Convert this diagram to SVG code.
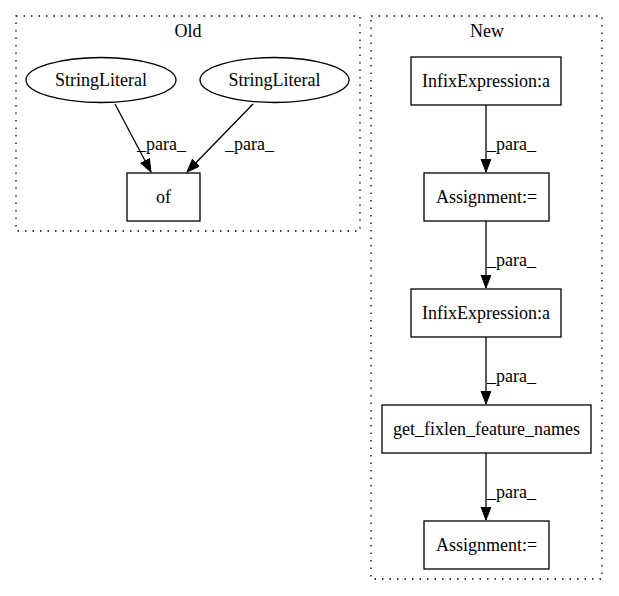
<svg xmlns="http://www.w3.org/2000/svg" width="619" height="596" viewBox="0 0 619 596">
<style>
text{font-family:"Liberation Serif","Times New Roman",serif;font-size:18px;fill:#000}
.c{text-anchor:middle}
.cl{fill:none;stroke:#000;stroke-width:1.3;stroke-dasharray:1.5,6}
.n{fill:#fff;stroke:#000;stroke-width:1.3}
.e{fill:none;stroke:#000;stroke-width:1.3}
</style>
<defs>
<marker id="ah" markerWidth="14" markerHeight="11" refX="13" refY="5" orient="auto" markerUnits="userSpaceOnUse">
<path d="M0,0 L13,5 L0,10 Z" fill="#000" stroke="#000" stroke-width="1"/>
</marker>
</defs>
<rect width="619" height="596" fill="#fff"/>
<g id="cluster-old">
<rect class="cl" x="16" y="16" width="344" height="215"/>
<text class="c" x="188" y="37">Old</text>
</g>
<g id="cluster-new">
<rect class="cl" x="371" y="16" width="231" height="563"/>
<text class="c" x="487" y="37">New</text>
</g>
<g id="connectors">
<path class="e" d="M115,104 L151,172" marker-end="url(#ah)"/>
<text x="137" y="150">_para_</text>
<path class="e" d="M253,104 L187,172" marker-end="url(#ah)"/>
<text x="225" y="150">_para_</text>
<path class="e" d="M486,105 L486,172" marker-end="url(#ah)"/>
<text x="487" y="150">_para_</text>
<path class="e" d="M486,221 L486,288" marker-end="url(#ah)"/>
<text x="487" y="266">_para_</text>
<path class="e" d="M486,337 L486,404" marker-end="url(#ah)"/>
<text x="487" y="382">_para_</text>
<path class="e" d="M486,453 L486,520" marker-end="url(#ah)"/>
<text x="487" y="498">_para_</text>
</g>
<g id="n-stringliteral-1">
<ellipse class="n" cx="101" cy="80" rx="75" ry="22.5"/>
<text class="c" x="101" y="86">StringLiteral</text>
</g>
<g id="n-stringliteral-2">
<ellipse class="n" cx="274.5" cy="80" rx="74.5" ry="22.5"/>
<text class="c" x="274.5" y="86">StringLiteral</text>
</g>
<g id="n-of">
<rect class="n" x="127" y="173" width="73" height="48"/>
<text class="c" x="163.5" y="203">of</text>
</g>
<g id="n-infix-1">
<rect class="n" x="411" y="57" width="150" height="48"/>
<text class="c" x="486" y="87">InfixExpression:a</text>
</g>
<g id="n-assign-1">
<rect class="n" x="424" y="173" width="125" height="48"/>
<text class="c" x="486.5" y="203">Assignment:=</text>
</g>
<g id="n-infix-2">
<rect class="n" x="411" y="289" width="150" height="48"/>
<text class="c" x="486" y="319">InfixExpression:a</text>
</g>
<g id="n-getfixlen">
<rect class="n" x="382" y="405" width="209" height="48"/>
<text class="c" x="486.5" y="435">get_fixlen_feature_names</text>
</g>
<g id="n-assign-2">
<rect class="n" x="424" y="521" width="125" height="48"/>
<text class="c" x="486.5" y="551">Assignment:=</text>
</g>
</svg>
